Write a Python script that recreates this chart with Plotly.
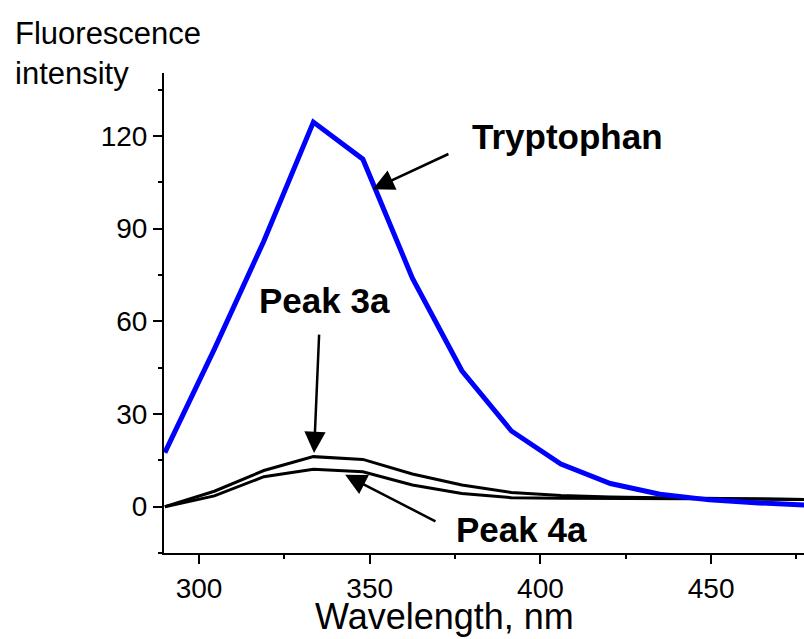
import plotly.graph_objects as go

# Emission wavelengths (nm)
wavelength = [290, 304.5, 319, 333.5, 348, 362.5, 377, 391.5, 406, 420.5, 435, 449.5, 464, 478.5]

# Fluorescence intensity of each sample
tryptophan = [17.5, 51, 86, 124.5, 112.5, 74, 44, 24.5, 13.8, 7.5, 4.0, 2.2, 1.2, 0.5]
peak_3a = [0, 5, 11.7, 16.2, 15.3, 10.6, 7.0, 4.6, 3.6, 3.1, 2.9, 2.7, 2.5, 2.3]
peak_4a = [0, 3.5, 9.7, 12.1, 11.3, 7.0, 4.3, 2.9, 2.7, 2.7, 2.7, 2.6, 2.5, 2.3]

x_ticks = [300, 350, 400, 450]
y_ticks = [0, 30, 60, 90, 120]

FONT = "Liberation Sans, Arial, sans-serif"

fig = go.Figure()
fig.add_trace(go.Scatter(x=wavelength, y=peak_3a, mode="lines",
                         line=dict(color="black", width=3), name="Peak 3a"))
fig.add_trace(go.Scatter(x=wavelength, y=peak_4a, mode="lines",
                         line=dict(color="black", width=3), name="Peak 4a"))
fig.add_trace(go.Scatter(x=wavelength, y=tryptophan, mode="lines",
                         line=dict(color="#0000ff", width=5), name="Tryptophan"))

axis_common = dict(
    showline=True, linecolor="black", linewidth=2,
    ticks="outside", ticklen=9, tickwidth=2, tickcolor="black",
    showgrid=False, zeroline=False,
    tickfont=dict(family=FONT, size=28, color="black"),
)

fig.update_xaxes(
    range=[289.75, 477.2], tickvals=x_ticks,
    minor=dict(ticks="outside", ticklen=4, tickwidth=2, tickcolor="black", dtick=25, tick0=0),
    **axis_common,
)
fig.update_yaxes(
    range=[-15, 140.4], tickvals=y_ticks,
    minor=dict(ticks="outside", ticklen=4, tickwidth=2, tickcolor="black", dtick=15, tick0=0),
    **axis_common,
)

arrow_style = dict(text="", xref="x", yref="y", axref="x", ayref="y",
                   showarrow=True, arrowhead=2, arrowsize=1.7,
                   arrowwidth=2.5, arrowcolor="black")

annotations = [
    # axis titles
    dict(text="Fluorescence<br>intensity", xref="paper", yref="paper",
         x=-0.2367, y=1.1229, xanchor="left", yanchor="top", align="left",
         showarrow=False, font=dict(family=FONT, size=31, color="black")),
    dict(text="Wavelength, nm", xref="x", yref="paper",
         x=372.0, y=-0.1792, xanchor="center", yanchor="bottom",
         showarrow=False, font=dict(family=FONT, size=36, color="black")),
    # curve labels
    dict(text="<b>Tryptophan</b>", xref="x", yref="y", x=407.8, y=120,
         showarrow=False, font=dict(family=FONT, size=35, color="black")),
    dict(text="<b>Peak 3a</b>", xref="x", yref="y", x=336.9, y=66.6,
         showarrow=False, font=dict(family=FONT, size=35, color="black")),
    dict(text="<b>Peak 4a</b>", xref="x", yref="y", x=394.5, y=-7.3,
         showarrow=False, font=dict(family=FONT, size=35, color="black")),
    # arrows pointing to the curves
    dict(x=350.9, y=102.8, ax=373.5, ay=114.4, **arrow_style),
    dict(x=333.7, y=17.4, ax=335.2, ay=56.2, **arrow_style),
    dict(x=342.8, y=10.3, ax=369.7, ay=-5.0, **arrow_style),
]

fig.update_layout(
    width=804, height=639,
    margin=dict(l=164, r=0, t=73, b=86),
    plot_bgcolor="white", paper_bgcolor="white",
    showlegend=False,
    annotations=annotations,
)

fig.write_html("out.html")
